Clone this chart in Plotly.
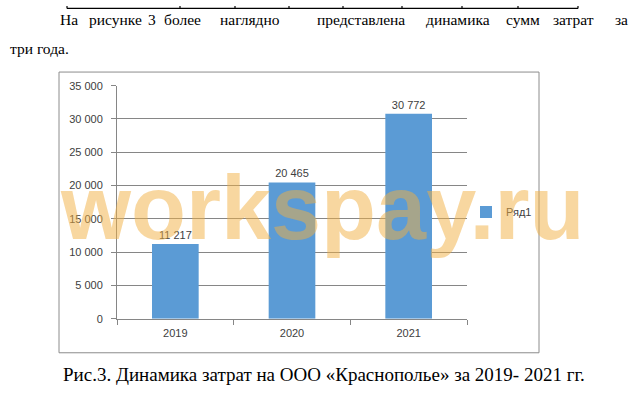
import plotly.graph_objects as go

# ---- data ----
years = ["2019", "2020", "2021"]
costs = [11217, 20465, 30772]
series_name = "Ряд1"
y_ticks = [0, 5000, 10000, 15000, 20000, 25000, 30000, 35000]

para_words = ["На", "рисунке", "3", "более", "наглядно", "представлена",
              "динамика", "сумм", "затрат", "за"]
para_line2 = "три года."
caption = "Рис.3. Динамика затрат на ООО «Краснополье» за 2019- 2021 гг."
watermark = "workspay.ru"

W, H = 637, 419
def px(x):
    return x / W
def py(y):
    return 1 - y / H

fig = go.Figure()
fig.add_trace(go.Bar(
    x=years, y=costs, name=series_name,
    marker=dict(color="#5B9BD5", line=dict(width=0)),
    width=0.4,
    texttemplate="%{y:,}", textposition="outside",
    textfont=dict(family="Liberation Sans", size=11, color="#404040"),
    cliponaxis=False,
    showlegend=True,
))

axis_font = dict(family="Liberation Sans", size=11, color="#404040")
fig.update_layout(
    width=W, height=H,
    margin=dict(l=0, r=0, t=0, b=0),
    paper_bgcolor="white", plot_bgcolor="white",
    separators=", ",
    bargap=0.6,
    xaxis=dict(
        domain=[px(117), px(467)], range=[-0.5, 2.5],
        showline=True, linecolor="#868686", linewidth=1,
        ticks="outside", tickson="boundaries", ticklen=5, tickcolor="#868686",
        showgrid=False, tickfont=axis_font, ticklabelstandoff=4,
    ),
    yaxis=dict(
        domain=[py(322), py(82)], range=[0, 35000],
        tickvals=y_ticks, tickformat=",",
        showline=True, linecolor="#868686", linewidth=1,
        showgrid=True, gridcolor="#868686", gridwidth=1,
        ticks="outside", ticklen=5, tickcolor="#868686",
        tickfont=axis_font, zeroline=False, ticklabelstandoff=6,
    ),
    legend=dict(
        x=px(466), y=py(212), xanchor="left", yanchor="middle",
        font=dict(family="Liberation Sans", size=11, color="#404040"),
        itemwidth=30, bgcolor="rgba(0,0,0,0)",
    ),
)

shapes = []
# chart border
shapes.append(dict(type="rect", xref="paper", yref="paper",
                   x0=px(59), x1=px(539), y0=py(357), y1=py(68),
                   line=dict(color="#8c8c8c", width=1)))
# table fragment at top of page
shapes.append(dict(type="line", xref="paper", yref="paper",
                   x0=px(67), x1=px(578), y0=py(2.5), y1=py(2.5),
                   line=dict(color="black", width=1.2)))
for xv in [67, 180, 235, 289, 343, 402, 462, 518, 578]:
    shapes.append(dict(type="line", xref="paper", yref="paper",
                       x0=px(xv), x1=px(xv), y0=py(0), y1=py(2.5),
                       line=dict(color="black", width=1.2)))
fig.update_layout(shapes=shapes)

serif_family = "'Liberation Serif', 'DejaVu Serif', serif"
serif = dict(family=serif_family, size=15.5, color="black")
word_x = [58, 87, 146, 162, 218, 315, 424, 504, 551, 613]
ann = []
for wtxt, xv in zip(para_words, word_x):
    ann.append(dict(text=wtxt, x=px(xv), y=py(14), xref="paper", yref="paper",
                    xanchor="left", yanchor="middle", showarrow=False, font=serif))
ann.append(dict(text=para_line2, x=px(8), y=py(44), xref="paper", yref="paper",
                xanchor="left", yanchor="middle", showarrow=False, font=serif))
ann.append(dict(text=caption, x=px(324), y=py(379), xref="paper", yref="paper",
                xanchor="center", yanchor="middle", showarrow=False,
                font=dict(family=serif_family, size=19, color="black")))
ann.append(dict(text="<b>" + watermark + "</b>", x=px(322), y=py(208),
                xref="paper", yref="paper", xanchor="center", yanchor="middle",
                showarrow=False,
                font=dict(family="Liberation Sans", size=90, color="rgba(241,175,65,0.5)")))
fig.update_layout(annotations=ann)

fig.write_html("out.html", config={"displayModeBar": False},
               post_script="document.body.style.margin='0';document.body.style.overflow='hidden';")
